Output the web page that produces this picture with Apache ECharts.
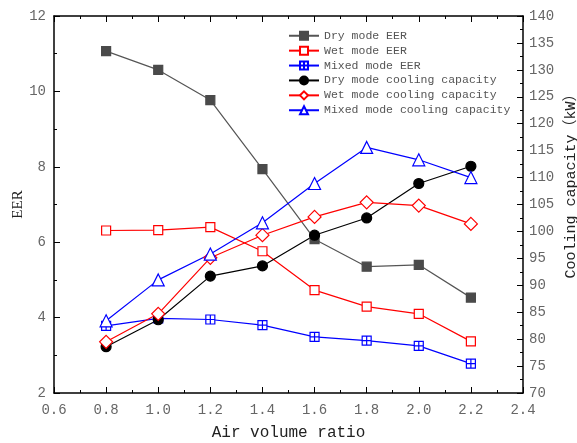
<!DOCTYPE html>
<html><head><meta charset="utf-8">
<script src="https://cdn.jsdelivr.net/npm/echarts@6/dist/echarts.min.js"></script>
<style>html,body{margin:0;padding:0;background:#fff}#c{width:577px;height:443px}</style>
</head><body><div id="c"></div>
<script>
const airRatio = [0.8, 1.0, 1.2, 1.4, 1.6, 1.8, 2.0, 2.2];
const dryEER = [11.07, 10.57, 9.77, 7.94, 6.08, 5.35, 5.40, 4.53];
const wetEER = [6.31, 6.32, 6.40, 5.76, 4.73, 4.29, 4.10, 3.37];
const mixedEER = [3.78, 3.98, 3.95, 3.80, 3.49, 3.39, 3.25, 2.78];
const dryCap = [78.6, 83.6, 91.7, 93.6, 99.3, 102.5, 108.9, 112.1];
const wetCap = [79.5, 84.7, 95.1, 99.3, 102.7, 105.4, 104.8, 101.4];
const mixedCap = [83.4, 91.0, 95.8, 101.6, 108.9, 115.6, 113.3, 110.0];
const names = ['Dry mode EER','Wet mode EER','Mixed mode EER','Dry mode cooling capacity','Wet mode cooling capacity','Mixed mode cooling capacity'];

const pairs = v => airRatio.map((x,i)=>[x, v[i]]);
const FONT = '"Liberation Mono","DejaVu Sans Mono","Noto Sans CJK SC",monospace';
const chart = echarts.init(document.getElementById('c'));
function mk(name, data, yIdx, color, lineColor, symbol, size, filled){
  return {name, type:'line', data:pairs(data), yAxisIndex:yIdx, symbol, symbolSize:size,
    lineStyle:{color:lineColor, width:1.2},
    itemStyle:{color: filled?color:'#fff', borderColor:color, borderWidth:1.2},
    emphasis:{disabled:true}, z: 3};
}
const axisCommon = {
  axisLine:{show:true, onZero:false, lineStyle:{color:'#000', width:1.5}},
  axisTick:{show:true, inside:true, length:6, lineStyle:{color:'#000'}},
  minorTick:{show:true, splitNumber:2, length:3, lineStyle:{color:'#000'}},
  splitLine:{show:false},
  nameMoveOverlap:false,
  axisLabel:{color:'#666', fontSize:14, fontFamily:FONT}
};
chart.setOption({
  animation:false,
  grid:{left:54, right:54, top:16, bottom:50, containLabel:false, outerBoundsMode:'none'},
  legend:{orient:'vertical', left:283, top:25, itemWidth:30, itemHeight:10, itemGap:3.4,
    textStyle:{color:'#555', fontSize:11.5, fontFamily:FONT}, data:names},
  xAxis:[
    Object.assign({}, axisCommon, {type:'value', min:0.6, max:2.4, interval:0.2,
      name:'Air volume ratio', nameLocation:'middle', nameGap:32,
      nameTextStyle:{color:'#222', fontSize:16, fontFamily:FONT},
      axisLabel:Object.assign({}, axisCommon.axisLabel, {formatter:v=>v.toFixed(1), margin:10})}),
    Object.assign({}, axisCommon, {type:'value', position:'top', min:0.6, max:2.4, interval:0.2,
      axisLabel:{show:false}})
  ],
  yAxis:[
    Object.assign({}, axisCommon, {type:'value', min:2, max:12, interval:2,
      name:'EER', nameLocation:'middle', nameGap:28, nameRotate:90,
      nameTextStyle:{color:'#222', fontSize:15, fontFamily:'"Liberation Serif",serif'}}),
    Object.assign({}, axisCommon, {type:'value', position:'right', min:70, max:140, interval:5,
      name:'Cooling capacity（kW）', nameLocation:'middle', nameGap:41, nameRotate:90,
      nameTextStyle:{color:'#222', fontSize:15, fontFamily:FONT, padding:[0,0,0,44]},
      axisLabel:Object.assign({}, axisCommon.axisLabel, {margin:6})})
  ],
  series:[
    mk(names[0], dryEER, 0, '#4a4a4a', '#555', 'rect', 9, true),
    mk(names[1], wetEER, 0, '#ff0000', '#ff0000', 'rect', 9, false),
    mk(names[2], mixedEER, 0, '#0000ff', '#0000ff', 'path://M0,0H10V10H0Z M5,0V10 M0,5H10', 9, false),
    mk(names[3], dryCap, 1, '#000', '#000', 'circle', 10, true),
    mk(names[4], wetCap, 1, '#ff0000', '#ff0000', 'diamond', 13, false),
    mk(names[5], mixedCap, 1, '#0000ff', '#0000ff', 'triangle', 12, false)
  ]
});
</script></body></html>
